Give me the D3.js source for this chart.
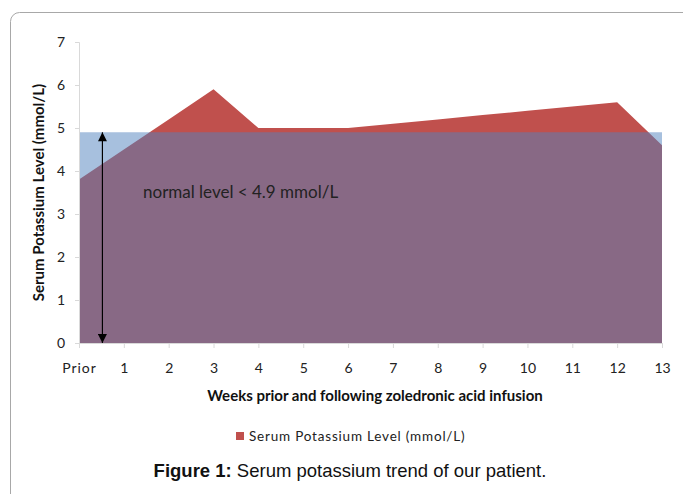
<!DOCTYPE html>
<html>
<head>
<meta charset="utf-8">
<script src="https://cdn.jsdelivr.net/npm/d3@7.9.0/dist/d3.min.js"></script>
<style>
  body { margin: 0; background: #fff; }
  svg { display: block; }
  .tick text { font-family: Lato, "Open Sans", sans-serif; fill: #222; }
</style>
</head>
<body>
<div id="chart"></div>
<script>
const weeks = ['Prior', '1', '2', '3', '4', '5', '6', '7', '8', '9', '10', '11', '12', '13'];
const potassium = [3.8, 4.5, 5.2, 5.9, 5.0, 5.0, 5.0, 5.1, 5.2, 5.3, 5.4, 5.5, 5.6, 4.6];
const normalLevel = [4.9, 4.9, 4.9, 4.9, 4.9, 4.9, 4.9, 4.9, 4.9, 4.9, 4.9, 4.9, 4.9, 4.9];
const yTicks = [0, 1, 2, 3, 4, 5, 6, 7];

const width = 683;
const height = 494;
const margin = { top: 42, right: 21, bottom: 151, left: 79 };

const svg = d3.select('#chart')
  .append('svg')
  .attr('width', width)
  .attr('height', height);

// frame round the chart
svg.append('rect')
  .attr('x', 10.5)
  .attr('y', 12.5)
  .attr('width', 720)
  .attr('height', 520)
  .attr('rx', 9)
  .attr('fill', 'none')
  .attr('stroke', '#a8a8a8');

const x = d3.scalePoint()
  .domain(weeks)
  .range([margin.left, width - margin.right]);

const y = d3.scaleLinear()
  .domain([0, 7])
  .range([height - margin.bottom, margin.top]);

const rows = weeks.map((w, i) => ({ week: w, k: potassium[i], normal: normalLevel[i] }));

const kArea = d3.area()
  .x(d => x(d.week))
  .y0(y(0))
  .y1(d => y(d.k));

const normalArea = d3.area()
  .x(d => x(d.week))
  .y0(y(0))
  .y1(d => y(d.normal));

svg.append('path')
  .datum(rows)
  .attr('d', kArea)
  .attr('fill', '#c0504d');

svg.append('path')
  .datum(rows)
  .attr('d', normalArea)
  .attr('fill', '#4f81bd')
  .attr('fill-opacity', 0.5);

// axes
const yAxis = svg.append('g')
  .attr('transform', `translate(${margin.left},0)`)
  .call(d3.axisLeft(y).tickValues(yTicks).tickFormat(d3.format('d')).tickSize(4).tickPadding(10));
yAxis.selectAll('line, path').attr('stroke', '#d9d9d9');
yAxis.selectAll('text').attr('font-size', 14);

const xAxis = svg.append('g')
  .attr('transform', `translate(0,${y(0)})`)
  .call(d3.axisBottom(x).tickSize(5).tickPadding(15));
xAxis.selectAll('line, path').attr('stroke', '#d9d9d9');
xAxis.selectAll('text')
  .attr('font-size', 14)
  .attr('letter-spacing', d => d === 'Prior' ? 1 : 0);

// axis titles
svg.append('text')
  .attr('transform', `translate(44,${(y(0) + y(7)) / 2}) rotate(-90)`)
  .attr('text-anchor', 'middle')
  .attr('font-family', 'Lato, sans-serif')
  .attr('font-weight', 'bold')
  .attr('font-size', 15)
  .attr('fill', '#111')
  .text('Serum Potassium Level (mmol/L)');

svg.append('text')
  .attr('x', 375)
  .attr('y', 401)
  .attr('text-anchor', 'middle')
  .attr('font-family', 'Lato, sans-serif')
  .attr('font-weight', 'bold')
  .attr('font-size', 15)
  .attr('fill', '#111')
  .text('Weeks prior and following zoledronic acid infusion');

// normal level annotation
const defs = svg.append('defs');
defs.append('marker')
  .attr('id', 'head')
  .attr('viewBox', '0 0 10 10')
  .attr('refX', 10)
  .attr('refY', 5)
  .attr('markerWidth', 10)
  .attr('markerHeight', 9)
  .attr('markerUnits', 'userSpaceOnUse')
  .attr('orient', 'auto-start-reverse')
  .append('path')
  .attr('d', 'M0,0 L10,5 L0,10 Z')
  .attr('fill', '#000');

const arrowX = (x('Prior') + x('1')) / 2 + 1;
svg.append('line')
  .attr('x1', arrowX)
  .attr('x2', arrowX)
  .attr('y1', y(0))
  .attr('y2', y(normalLevel[0]))
  .attr('stroke', '#000')
  .attr('stroke-width', 1.2)
  .attr('marker-start', 'url(#head)')
  .attr('marker-end', 'url(#head)');

svg.append('text')
  .attr('x', 143)
  .attr('y', 198)
  .attr('font-family', 'Lato, sans-serif')
  .attr('font-size', 17)
  .attr('fill', '#222')
  .text('normal level < 4.9 mmol/L');

// legend
svg.append('rect')
  .attr('x', 236)
  .attr('y', 432)
  .attr('width', 8)
  .attr('height', 8)
  .attr('fill', '#c0504d');

svg.append('text')
  .attr('x', 249)
  .attr('y', 441)
  .attr('font-family', 'Lato, sans-serif')
  .attr('font-size', 13.5)
  .attr('letter-spacing', 0.8)
  .attr('fill', '#222')
  .text('Serum Potassium Level (mmol/L)');

// caption
const caption = svg.append('text')
  .attr('x', 350)
  .attr('y', 477)
  .attr('text-anchor', 'middle')
  .attr('font-family', '"Liberation Sans", Arial, sans-serif')
  .attr('font-size', 18.5)
  .attr('fill', '#111');
caption.append('tspan').attr('font-weight', 'bold').text('Figure 1:');
caption.append('tspan').text(' Serum potassium trend of our patient.');
</script>
</body>
</html>
